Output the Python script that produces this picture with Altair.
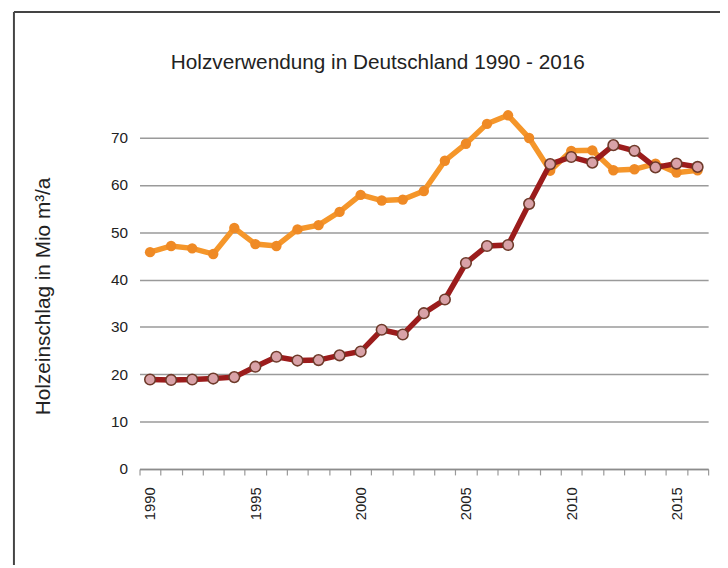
import altair as alt
import pandas as pd

years = list(range(1990, 2017))
verwendung = [45.8, 47.1, 46.6, 45.4, 50.9, 47.5, 47.1, 50.6, 51.5, 54.3,
              57.9, 56.7, 56.9, 58.7, 65.1, 68.7, 72.9, 74.7, 69.9, 63.0,
              67.2, 67.3, 63.1, 63.3, 64.5, 62.6, 63.1]
einschlag = [18.9, 18.8, 18.9, 19.1, 19.4, 21.6, 23.7, 22.9, 23.0, 24.0,
             24.8, 29.4, 28.4, 32.9, 35.8, 43.5, 47.1, 47.3, 56.0, 64.4,
             65.9, 64.7, 68.4, 67.2, 63.7, 64.5, 63.8]
y_ticks = [0, 10, 20, 30, 40, 50, 60, 70]
x_label_years = [1990, 1995, 2000, 2005, 2010, 2015]
chart_title = ["Holzverwendung in Deutschland 1990 - 2016"]

df = pd.DataFrame({"Jahr": years, "Verwendung": verwendung, "Einschlag": einschlag})

FONT = "Liberation Sans"
label_expr = "indexof([" + ",".join(str(v) for v in x_label_years) + "], datum.value) >= 0 ? datum.label : ''"

x_enc = alt.X(
    "Jahr:O",
    bandPosition=0.5,
    scale=alt.Scale(type="band", paddingInner=0, paddingOuter=0),
    axis=alt.Axis(
        title=None,
        tickBand="extent",
        labelExpr=label_expr,
        labelAngle=-90,
        labelFont=FONT,
        labelFontSize=15,
        labelColor="#222222",
        labelPadding=12,
        labelOverlap=False,
        tickColor="#999999",
        tickSize=6,
        tickWidth=1.2,
        domainColor="#8c8c8c",
        domainWidth=1.5,
        grid=False,
    ),
)

def y_enc(field):
    return alt.Y(
        f"{field}:Q",
        scale=alt.Scale(domain=[0, 80]),
        axis=alt.Axis(
            values=y_ticks,
            title="Holzeinschlag in Mio m³/a",
            titleFont=FONT,
            titleFontSize=21,
            titleFontWeight="normal",
            titleColor="#222222",
            titleAngle=-90,
            titleX=-97,
            titleY=208,
            titleAlign="center",
            titleBaseline="middle",
            labelFont=FONT,
            labelFontSize=15.5,
            labelColor="#222222",
            labelPadding=12,
            domain=False,
            ticks=False,
            grid=True,
            gridColor="#9a9a9a",
            gridWidth=1.5,
        ),
    )

base = alt.Chart(df)

v_line = base.mark_line(color="#F5962A", strokeWidth=5.5).encode(x=x_enc, y=y_enc("Verwendung"))
v_pts = base.mark_point(filled=True, color="#EF8A25", size=110, opacity=1).encode(x=x_enc, y=y_enc("Verwendung"))
e_line = base.mark_line(color="#9B1C1C", strokeWidth=5.5).encode(x=x_enc, y=y_enc("Einschlag"))
e_pts = base.mark_point(filled=True, fill="#D9A2A8", stroke="#6E3A2A", strokeWidth=1.6, size=115, opacity=1).encode(
    x=x_enc, y=y_enc("Einschlag"))

frame_df = pd.DataFrame({"k": [0]})
frame_top = alt.Chart(frame_df).mark_rule(color="#444444", strokeWidth=2).encode(
    x=alt.value(-127), x2=alt.value(590), y=alt.value(-79))
frame_left = alt.Chart(frame_df).mark_rule(color="#444444", strokeWidth=2).encode(
    x=alt.value(-127), y=alt.value(-79), y2=alt.value(480))

title_df = pd.DataFrame({"t": chart_title})
title_mark = alt.Chart(title_df).mark_text(
    font=FONT, fontSize=21, color="#222222", align="center", baseline="middle"
).encode(text="t:N", x=alt.value(241), y=alt.value(-27))

chart = alt.layer(frame_top, frame_left, title_mark, v_line, v_pts, e_line, e_pts).properties(
    width=575,
    height=383,
    autosize="none",
    padding={"left": 133, "top": 80, "right": 12, "bottom": 96},
).configure(background="white").configure_view(stroke=None)

chart.save("out.html", embed_options={"renderer": "svg", "actions": False})
